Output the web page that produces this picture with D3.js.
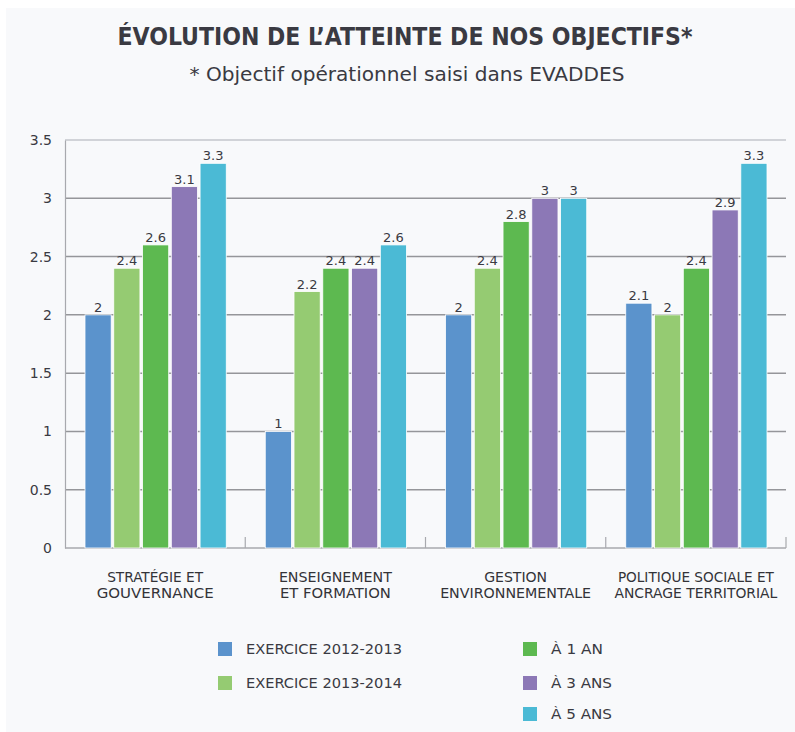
<!DOCTYPE html>
<html><head><meta charset="utf-8">
<script src="https://cdn.jsdelivr.net/npm/d3@7"></script>
<style>body{margin:0;background:#fff;}svg{display:block;}</style>
</head><body>
<svg id="c" width="795" height="732"></svg>
<script>
const categories = [["STRATÉGIE ET","GOUVERNANCE"],["ENSEIGNEMENT","ET FORMATION"],["GESTION","ENVIRONNEMENTALE"],["POLITIQUE SOCIALE ET","ANCRAGE TERRITORIAL"]];
const seriesNames = ["EXERCICE 2012-2013","EXERCICE 2013-2014","À 1 AN","À 3 ANS","À 5 ANS"];
const exercice2012 = [2, 1, 2, 2.1];
const exercice2013 = [2.4, 2.2, 2.4, 2];
const a1an = [2.6, 2.4, 2.8, 2.4];
const a3ans = [3.1, 2.4, 3, 2.9];
const a5ans = [3.3, 2.6, 3, 3.3];
const yTicks = [0, 0.5, 1, 1.5, 2, 2.5, 3, 3.5];
const colors = ["#5b93cc","#95cb72","#5db950","#8c78b6","#4bbad5"];
const series = [exercice2012, exercice2013, a1an, a3ans, a5ans];

(function(){
const svg = d3.select("#c");
svg.append("rect").attr("x",6).attr("y",8).attr("width",789).attr("height",724).attr("fill","#f8f9fb");

const pL = 65, pR = 786, pT = 140, pB = 548;
const x0 = d3.scaleBand().domain(d3.range(categories.length)).range([pL, pR]).paddingInner(0).paddingOuter(0);
const x1 = d3.scaleBand().domain(d3.range(series.length)).range([20, x0.bandwidth()-19]).paddingInner(0.09).paddingOuter(0);
const y = d3.scaleLinear().domain([0, 3.5]).range([pB, pT]);

// title
svg.append("text").attr("x",405).attr("y",45).attr("text-anchor","middle")
  .attr("font-family","'Liberation Sans Narrow','DejaVu Sans Condensed',sans-serif").attr("font-weight","bold")
  .attr("font-size",25).attr("fill","#3a3a42").attr("textLength",575).attr("lengthAdjust","spacingAndGlyphs")
  .text("ÉVOLUTION DE L’ATTEINTE DE NOS OBJECTIFS*");
svg.append("text").attr("x",407).attr("y",81).attr("text-anchor","middle")
  .attr("font-family","'Liberation Sans Narrow','DejaVu Sans Condensed',sans-serif")
  .attr("font-size",20).attr("fill","#3a3a42").attr("textLength",435).attr("lengthAdjust","spacingAndGlyphs")
  .text("* Objectif opérationnel saisi dans EVADDES");

// gridlines
const grid = svg.append("g");
yTicks.filter(t=>t>0).forEach(t=>{
  grid.append("line").attr("x1",pL).attr("x2",pR).attr("y1",y(t)).attr("y2",y(t))
    .attr("stroke", t===3.5 ? "#c4c6cc" : "#95969a").attr("stroke-width",1.5);
});

// y axis
const yAxis = d3.axisLeft(y).tickValues(yTicks).tickSize(0).tickPadding(13).tickFormat(d=>String(d));
const ya = svg.append("g").attr("transform",`translate(${pL},0)`).call(yAxis);
ya.select(".domain").attr("stroke","#a8a9ae").attr("stroke-width",1.2);
ya.selectAll("text").attr("font-family","'DejaVu Sans',sans-serif").attr("font-size",14).attr("fill","#3a3a42");

// x axis
const xa = svg.append("g").attr("transform",`translate(0,${pB})`);
xa.append("line").attr("x1",pL).attr("x2",pR).attr("stroke","#a8a9ae").attr("stroke-width",1.5);
d3.range(1, categories.length+1).forEach(i=>{
  const xx = i<categories.length ? x0(i) : pR;
  xa.append("line").attr("x1",xx).attr("x2",xx).attr("y1",0).attr("y2",-11).attr("stroke","#a8a9ae").attr("stroke-width",1.2);
});

// bars
const gBars = svg.append("g");
categories.forEach((c,ci)=>{
  series.forEach((s,si)=>{
    const bx = x0(ci)+x1(si), bw = x1.bandwidth();
    gBars.append("rect").attr("x",bx).attr("y",y(s[ci])).attr("width",bw).attr("height",y(0)-y(s[ci]))
      .attr("fill",colors[si]).attr("stroke","#ffffff").attr("stroke-width",0.8);
    gBars.append("text").attr("x",bx+bw/2).attr("y",y(s[ci])-3).attr("text-anchor","middle")
      .attr("font-family","'DejaVu Sans',sans-serif").attr("font-size",13).attr("fill","#3a3a42")
      .text(String(s[ci]));
  });
});

// category labels
const catWidths = [[96,117],[113,111],[63,151],[156,163]];
categories.forEach((c,ci)=>{
  c.forEach((line,li)=>{
    svg.append("text").attr("x",x0(ci)+x0.bandwidth()/2).attr("y",582+li*16).attr("text-anchor","middle")
      .attr("font-family","'Liberation Sans Narrow','DejaVu Sans Condensed',sans-serif")
      .attr("font-size",14).attr("fill","#333338")
      .attr("textLength",catWidths[ci][li]).attr("lengthAdjust","spacingAndGlyphs")
      .text(line);
  });
});

// legend
const legPos = [[218,642],[218,676],[523,642],[523,676],[523,707]];
const legW = [156,156,52,61,61];
seriesNames.forEach((n,i)=>{
  const [lx,ly] = legPos[i];
  svg.append("rect").attr("x",lx).attr("y",ly).attr("width",14).attr("height",14).attr("fill",colors[i]);
  svg.append("text").attr("x",lx+28).attr("y",ly+12).attr("font-family","'DejaVu Sans',sans-serif")
    .attr("font-size",14).attr("fill","#3a3a42")
    .attr("textLength",legW[i]).attr("lengthAdjust","spacingAndGlyphs").text(n);
});
})();
</script>
</body></html>
